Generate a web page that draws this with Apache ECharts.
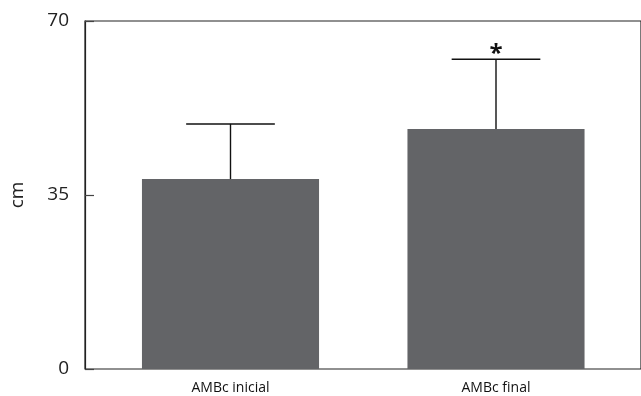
<!DOCTYPE html>
<html>
<head>
<meta charset="utf-8">
<script src="https://cdn.jsdelivr.net/npm/echarts@6/dist/echarts.min.js"></script>
<style>html,body{margin:0;padding:0;background:#fff}#c{width:641px;height:396px}</style>
</head>
<body>
<div id="c"></div>
<script>
var categories = ['AMBc inicial', 'AMBc final'];
var means = [38.2, 48.3];
var errorTops = [49.3, 62.3];
var marks = ['', '*'];
var yTicks = [0, 35, 70];

var chart = echarts.init(document.getElementById('c'), null, {renderer: 'canvas'});
var FONT = '"Open Sans", "Noto Sans", sans-serif';

var errData = categories.map(function (c, i) { return [i, means[i], errorTops[i], marks[i]]; });

chart.setOption({
  animation: false,
  backgroundColor: '#ffffff',
  grid: [
    {left: 84, right: -3, top: 21, bottom: 27, show: true, borderColor: '#222', borderWidth: 1.2, backgroundColor: 'transparent'},
    {left: 97.75, right: 12.25, top: 21, bottom: 27}
  ],
  xAxis: [
    {gridIndex: 0, type: 'category', data: categories, show: false},
    {gridIndex: 1, type: 'category', data: categories,
      axisLine: {show: false}, axisTick: {show: false},
      axisLabel: {color: '#111', fontSize: 14, fontFamily: FONT, margin: 12}}
  ],
  yAxis: [
    {gridIndex: 0, type: 'value', min: yTicks[0], max: yTicks[yTicks.length - 1], interval: 35,
      name: 'cm', nameLocation: 'middle', nameGap: 58, nameRotate: 90,
      nameTextStyle: {color: '#222', fontSize: 19, fontFamily: FONT},
      axisLine: {show: true, lineStyle: {color: '#222', width: 1.2}},
      axisTick: {show: true, inside: true, length: 9, lineStyle: {color: '#444', width: 1.2}},
      axisLabel: {color: '#222', fontSize: 19, fontFamily: FONT, margin: 16},
      splitLine: {show: false}},
    {gridIndex: 1, type: 'value', min: 0, max: 70, show: false, splitLine: {show: false}}
  ],
  series: [
    {type: 'bar', xAxisIndex: 1, yAxisIndex: 1, data: means, barWidth: '66.7%',
      itemStyle: {color: '#636467'}, z: 2},
    {type: 'custom', xAxisIndex: 1, yAxisIndex: 1, data: errData, z: 3,
      renderItem: function (params, api) {
        var x = api.value(0);
        var base = api.coord([x, api.value(1)]);
        var top = api.coord([x, api.value(2)]);
        var bw = api.size([1, 0])[0] * 0.334;
        var children = [
          {type: 'line', shape: {x1: base[0], y1: base[1], x2: top[0], y2: top[1]}, style: {stroke: '#111', lineWidth: 1.4}},
          {type: 'line', shape: {x1: top[0] - bw / 2, y1: top[1], x2: top[0] + bw / 2, y2: top[1]}, style: {stroke: '#111', lineWidth: 1.5}}
        ];
        var m = api.value(3);
        if (m) {
          children.push({type: 'text', style: {text: m, x: top[0], y: top[1] + 7, align: 'center', verticalAlign: 'bottom', fontSize: 24, fontWeight: 'bold', fontFamily: FONT, fill: '#111'}});
        }
        return {type: 'group', children: children};
      }}
  ]
});
</script>
</body>
</html>
